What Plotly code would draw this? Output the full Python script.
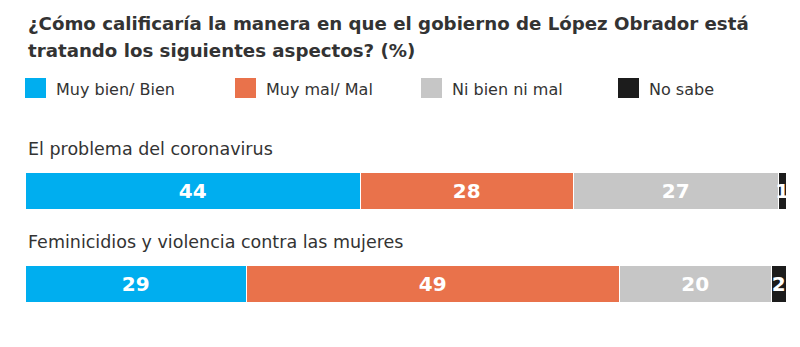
import plotly.graph_objects as go

# Survey data (%)
aspects = ["El problema del coronavirus",
           "Feminicidios y violencia contra las mujeres"]
series_names = ["Muy bien/ Bien", "Muy mal/ Mal", "Ni bien ni mal", "No sabe"]
series_values = [
    [44, 29],
    [28, 49],
    [27, 20],
    [1, 2],
]
series_colors = ["#00AEEF", "#E9724B", "#C6C6C6", "#1C1C1C"]

title_lines = ["¿Cómo calificaría la manera en que el gobierno de López Obrador está",
               "tratando los siguientes aspectos? (%)"]

FONT = "DejaVu Sans"
TEXT_COLOR = "#333333"

W, H = 800, 347
M_L, M_R, M_T, M_B = 26, 13, 145, 16
PW, PH = W - M_L - M_R, H - M_T - M_B


def px(x):
    """Horizontal pixel -> paper coordinate."""
    return (x - M_L) / PW


def py(y):
    """Vertical pixel (from top) -> paper coordinate."""
    return (H - M_B - y) / PH


fig = go.Figure()
for name, vals, color in zip(series_names, series_values, series_colors):
    fig.add_trace(go.Bar(
        y=aspects, x=vals, name=name, orientation="h",
        marker=dict(color=color, line=dict(color="white", width=1.5)),
        width=0.4,
        text=vals, texttemplate="%{text}", textposition="inside",
        insidetextanchor="middle", constraintext="none",
        textfont=dict(family=FONT, size=20, color="white", weight=700),
        showlegend=False, hoverinfo="skip",
    ))

# Category labels above each bar
for i, a in enumerate(aspects):
    fig.add_annotation(x=0, y=i - 0.46, xref="x", yref="y", text=a,
                       showarrow=False, xanchor="left", yanchor="middle",
                       font=dict(family=FONT, size=17.5, color=TEXT_COLOR))

# Title, two lines
for k, line in enumerate(title_lines):
    fig.add_annotation(x=px(26), y=py(24 + 26 * k), xref="paper", yref="paper",
                       text=line, showarrow=False, xanchor="left", yanchor="middle",
                       font=dict(family=FONT, size=18.2, color=TEXT_COLOR, weight=700))

# Legend: colour squares with labels
legend_x = [25, 235, 421, 618]
for x0, name, color in zip(legend_x, series_names, series_colors):
    fig.add_shape(type="rect", xref="paper", yref="paper",
                  x0=px(x0), x1=px(x0 + 21), y0=py(98), y1=py(78),
                  fillcolor=color, line=dict(width=0))
    fig.add_annotation(x=px(x0 + 29), y=py(89), xref="paper", yref="paper",
                       text=name, showarrow=False, xanchor="left", yanchor="middle",
                       font=dict(family=FONT, size=16, color=TEXT_COLOR))

fig.update_layout(
    width=W, height=H,
    margin=dict(l=M_L, r=M_R, t=M_T, b=M_B),
    paper_bgcolor="white", plot_bgcolor="white",
    barmode="stack", bargap=0,
    xaxis=dict(range=[0, 100], visible=False, fixedrange=True),
    yaxis=dict(range=[1.5, -0.5], visible=False, fixedrange=True,
               categoryorder="array", categoryarray=aspects),
)

fig.write_html("out.html")
